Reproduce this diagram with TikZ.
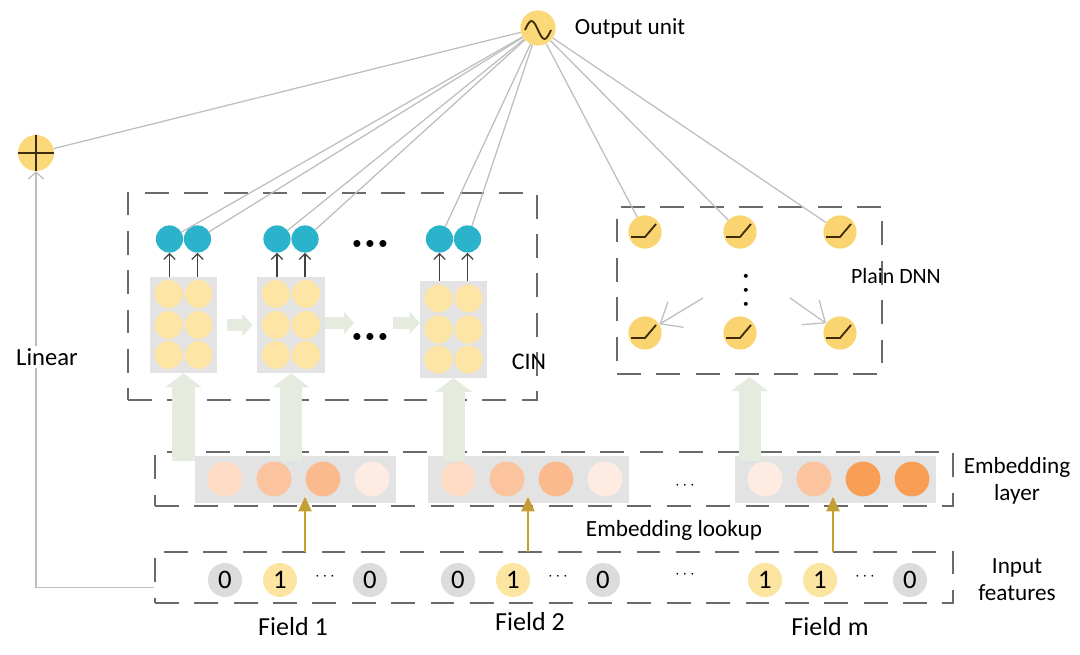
\documentclass[tikz,border=0pt]{standalone}
\usepackage{fontspec}
\setmainfont{Carlito}
\usetikzlibrary{arrows.meta}

\definecolor{sunny}{HTML}{FBD878}
\definecolor{cellyel}{HTML}{FDE5A6}
\definecolor{matgray}{HTML}{E3E3E3}
\definecolor{cinblue}{HTML}{2BB3CC}
\definecolor{peachA}{HTML}{FDDBC4}
\definecolor{peachB}{HTML}{FBC39E}
\definecolor{peachC}{HTML}{FABA8D}
\definecolor{peachD}{HTML}{FEECE2}
\definecolor{peachE}{HTML}{F89E55}
\definecolor{bitgray}{HTML}{DCDCDC}
\definecolor{bityel}{HTML}{FBE5A0}
\definecolor{gold}{HTML}{C69E36}
\definecolor{fatgreen}{HTML}{E6EBE0}
\definecolor{wiregray}{HTML}{BEBEBE}
\definecolor{dashgray}{HTML}{6A6A6A}
\definecolor{glyphc}{HTML}{3D2B0B}

\begin{document}
\begin{tikzpicture}[x=0.025cm,y=-0.025cm,
    box/.style={draw=dashgray,line width=1.4pt,dash pattern=on 17pt off 11pt,inner sep=0pt},
    unit/.style={circle,fill=sunny,inner sep=0pt,minimum size=0.88cm},
    glyph/.style={draw=glyphc,line width=1.3pt},
    wire/.style={draw=wiregray,line width=0.9pt},
    matbox/.style={fill=matgray,inner sep=0pt,minimum width=1.675cm,minimum height=2.4cm},
    cell/.style={circle,fill=cellyel,inner sep=0pt,minimum size=0.7cm},
    bluedot/.style={circle,fill=cinblue,inner sep=0pt,minimum size=0.68cm},
    tiny/.style={draw=black!75,line width=0.9pt,-{Straight Barb[length=4pt,width=8pt]}},
    fatarrow/.style={draw=fatgreen,line width=0.55cm,-{Triangle[width=0.9cm,length=0.35cm]}},
    midarrow/.style={draw=fatgreen,line width=0.3cm,-{Triangle[width=0.55cm,length=0.25cm]}},
    fan/.style={draw=wiregray,line width=0.9pt,-{Straight Barb[length=0.45cm,width=0.75cm]}},
    embbar/.style={fill=matgray,inner sep=0pt,minimum width=5.025cm,minimum height=1.175cm},
    emb/.style={circle,fill=#1,inner sep=0pt,minimum size=0.87cm},
    bit0/.style={circle,fill=bitgray,inner sep=0pt,minimum size=0.85cm,font=\fontsize{19}{20}\selectfont},
    bit1/.style={circle,fill=bityel,inner sep=0pt,minimum size=0.85cm,font=\fontsize{19}{20}\selectfont},
    lookup/.style={draw=gold,line width=1.5pt,-{Triangle[length=0.37cm,width=0.33cm]}},
    lbl/.style={font=\fontsize{16.5}{19}\selectfont,align=center},
    bigdots/.style={font=\fontsize{14}{16}\selectfont}]
\useasboundingbox (0,0) rectangle (1080,655);

% output side
\node[unit] (out) at (538,28) {};
\draw[glyph] ([shift={(-13,2)}]out.center) sin ++(6.5,-9) cos ++(6.5,9) sin ++(6.5,9) cos ++(6.5,-9);
\node[lbl,anchor=west] (outlbl) at (570,28) {Output unit};
\node[unit,minimum size=0.9cm] (plus) at (36,153) {};
\draw[glyph] (plus.west) -- (plus.east) (plus.north) -- (plus.south);

% CIN part
\node[box,minimum width=10.225cm,minimum height=5.175cm] (cin) at (332.5,296.5) {};
\node[font=\fontsize{17}{20}\selectfont] (cinlbl) at (529,362) {CIN};
\foreach \m/\cx/\cy in {1/183.5/325,2/291/325,3/453.5/329.5}{
  \node[matbox] (m\m) at (\cx,\cy) {};
  \foreach \r/\dy in {1/-31,2/0,3/30}{
    \node[cell] (c\m\r l) at ({\cx-15},{\cy+(\dy)}) {};
    \node[cell] (c\m\r r) at ({\cx+15},{\cy+(\dy)}) {};
  }
  \node[bluedot] (b\m a) at ({\cx-14},239) {};
  \node[bluedot] (b\m b) at ({\cx+14},239) {};
  \draw[tiny] (b\m a |- m\m.north) -- (b\m a);
  \draw[tiny] (b\m b |- m\m.north) -- (b\m b);
}
\node[bigdots] (cdots1) at (370,245) {\textbullet\,\textbullet\,\textbullet};
\node[bigdots] (cdots2) at (370,338) {\textbullet\,\textbullet\,\textbullet};
\coordinate (s2) at (354,323);
\coordinate (s3) at (393,323);
\draw[midarrow,shorten <=0.25cm,shorten >=0.12cm] (m1.east) -- (m2.west);
\draw[midarrow] (m2.east |- s2) -- (s2);
\draw[midarrow] (s3) -- (m3.west |- s3);

% plain DNN
\node[box,minimum width=6.625cm,minimum height=4.175cm] (dnn) at (749.5,290.5) {};
\node[font=\fontsize{15.5}{18}\selectfont] (dnnlbl) at (896,276) {Plain DNN};
\foreach \i/\x/\y in {1/645/232,2/740/232,3/840/232,4/645/333,5/740/333,6/840/333}{
  \node[unit,fill=sunny!95!orange,minimum size=0.83cm] (d\i) at (\x,\y) {};
  \draw[glyph] ([shift={(-14,5)}]d\i.center) -- ++(14,0) -- ++(11,-13);
}
\node[font=\fontsize{8}{10}\selectfont,align=center] (vdots) at (746,291) {\textbullet\\\textbullet\\\textbullet};
\coordinate (fanl) at (703,298);
\coordinate (fanr) at (790,298);
\draw[fan] (fanl) -- (d4);
\draw[fan] (fanr) -- (d6);

% wires to output unit
\foreach \t in {plus,b1a,b1b,b2a,b2b,b3a,b3b,d1,d2,d3}
  \draw[wire] (out) -- (\t);

% embedding layer
\node[box,minimum width=19.95cm,minimum height=1.35cm] (emb) at (554,479) {};
\node[lbl] (emblbl) at (1017,481) {Embedding\\layer};
\foreach \f/\x/\ca/\cb/\cc/\cd in {1/225/peachA/peachB/peachC/peachD,2/458/peachA/peachB/peachC/peachD,m/765/peachD/peachB/peachE/peachE}{
  \node[embbar] (e\f) at ({\x+70.5},479.5) {};
  \node[emb=\ca] (e\f a) at (\x,479) {};
  \node[emb=\cb] (e\f b) at ({\x+49},479) {};
  \node[emb=\cc] (e\f c) at ({\x+98},479) {};
  \node[emb=\cd] (e\f d) at ({\x+147},479) {};
}
\node[font=\fontsize{12}{14}\selectfont] (edots) at (685,486) {$\cdots$};

% input features
\node[box,minimum width=19.95cm,minimum height=1.275cm] (inp) at (554,577.5) {};
\node[lbl] (inplbl) at (1017,580) {Input\\features};
\foreach \f/\x/\a/\b/\c in {1/225/0/1/0,2/458/0/1/0,m/765/1/1/0}{
  \node[bit\a] (i\f a) at (\x,580) {\a};
  \node[bit\b] (i\f b) at ({\x+55},580) {\b};
  \node[font=\fontsize{12}{14}\selectfont] (i\f dots) at ({\x+100},577) {$\cdots$};
  \node[bit\c] (i\f c) at ({\x+145},580) {\c};
}
\node[font=\fontsize{12}{14}\selectfont] (idots) at (685,575) {$\cdots$};
\node[font=\fontsize{18.5}{20}\selectfont] (fld1) at (293,627) {Field 1};
\node[font=\fontsize{18.5}{20}\selectfont] (fld2) at (530,622) {Field 2};
\node[font=\fontsize{18.5}{20}\selectfont] (fldm) at (830,627) {Field m};

% lookup arrows
\foreach \f/\ax in {1/305,2/528,m/833}{
  \coordinate (a\f) at (\ax,552);
  \draw[lookup] (a\f) -- (a\f |- emb.south);
}
\node[lbl] (looklbl) at (674,530) {Embedding lookup};

% big arrows into CIN and DNN
\foreach \m in {1,2,3}
  \draw[fatarrow] (m\m.south |- emb.north) -- (m\m.south);
\draw[fatarrow] (dnn.south |- emb.north) -- ([yshift=-0.05cm]dnn.south);

% linear part
\draw[wire,-{Straight Barb[length=5pt,width=11pt]}] ([yshift=-0.25cm]inp.west) -| (plus);
\node[fill=white,font=\fontsize{17.5}{20}\selectfont,inner sep=2pt] (linlbl) at (47,357) {Linear};
\end{tikzpicture}
\end{document}
